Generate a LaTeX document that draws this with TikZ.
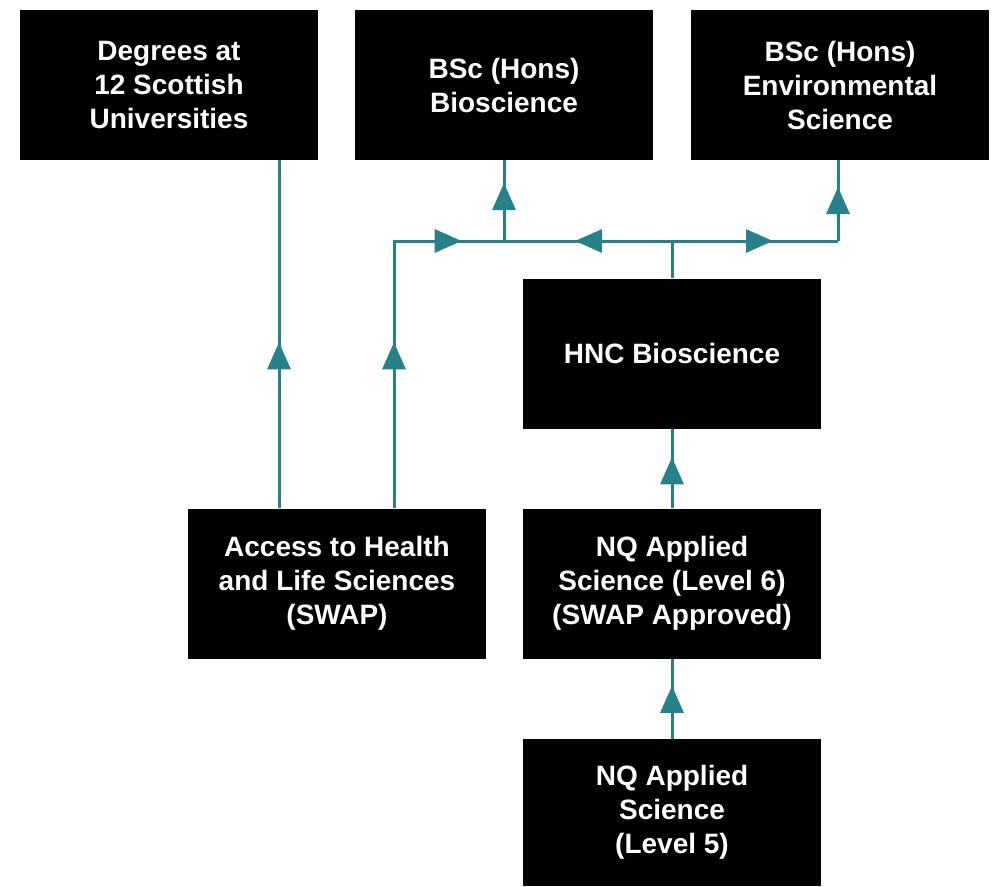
\documentclass[tikz,border=0pt]{standalone}
\usepackage{fontspec}
\setmainfont{Liberation Sans}
\usetikzlibrary{arrows.meta}
\usetikzlibrary{decorations.markings}
\definecolor{teal}{RGB}{38,130,136}
\tikzset{box/.style={fill=black, text=white, font=\fontsize{28}{34}\selectfont\bfseries, align=center, minimum width=298pt, minimum height=150pt, inner sep=0pt}}
\tikzset{link/.style={draw=teal, line width=3pt}}
\tikzset{mid arrow/.style={postaction=decorate, decoration={markings, mark=at position #1 with {\arrow{Triangle[width=23pt,length=27pt]}}}}}
\tikzset{mid arrows/.style 2 args={postaction=decorate, decoration={markings, mark=at position #1 with {\arrow{Triangle[width=23pt,length=27pt]}}, mark=at position #2 with {\arrow{Triangle[width=23pt,length=27pt]}}}}}

\begin{document}
\begin{tikzpicture}[x=1pt,y=-1pt]
\useasboundingbox (0,0) rectangle (995,886);

\node[box] (deg) at (169,85) {Degrees at\\12 Scottish\\Universities};
\node[box] (bio) at (504,85) {BSc (Hons)\\Bioscience};
\node[box] (env) at (840,85) {BSc (Hons)\\Environmental\\Science};
\node[box] (hnc) at (672,353.5) {HNC Bioscience};
\node[box] (acc) at (337,583.5) {Access to Health\\and Life Sciences\\(SWAP)};
\node[box] (nqsix) at (672,583.5) {NQ Applied\\Science (Level 6)\\(SWAP Approved)};
\node[box, minimum height=147pt] (nqfive) at (672,812.5) {NQ Applied\\Science\\ (Level 5)};

\coordinate (jbio) at (504,241);
\coordinate (jhnc) at (672,241);
\coordinate (jenv) at (838,241);

\draw[link, mid arrow=166pt] (acc.north -| 279,0) -- (deg.south -| 279,0);
\draw[link, mid arrows={166pt}{335pt}] (acc.north -| 394,0) |- (jbio);
\draw[link, mid arrow=58pt] (jbio) -- (bio.south);
\draw[link] (hnc.north) -- (jhnc);
\draw[link, mid arrow=97pt] (jhnc) -- (jbio);
\draw[link, mid arrow=101pt] (jhnc) -- (jenv);
\draw[link, mid arrow=54pt] (jenv) -- (env.south -| jenv);
\draw[link, mid arrow=51pt] (nqsix.north) -- (hnc.south);
\draw[link, mid arrow=53pt] (nqfive.north) -- (nqsix.south);
\end{tikzpicture}
\end{document}
